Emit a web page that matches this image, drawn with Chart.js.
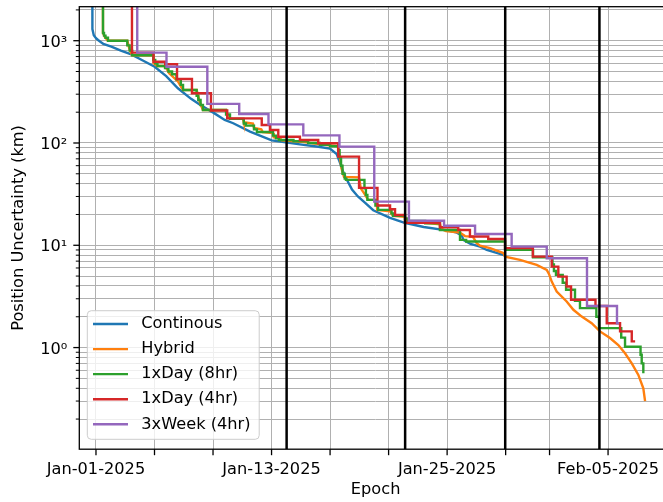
<!DOCTYPE html>
<html>
<head>
<meta charset="utf-8">
<script src="https://cdn.jsdelivr.net/npm/chart.js@4/dist/chart.umd.min.js"></script>
<style>
  html, body { margin: 0; padding: 0; background: #fff; overflow: hidden; width: 663px; height: 502px; }
  #wrap { width: 680px; height: 502px; }
</style>
</head>
<body>
<div id="wrap"><canvas id="c" width="680" height="502"></canvas></div>
<script>
// ---- data (x = days since Jan-01-2025, y = position uncertainty in km) ----
const seriesNames  = ['Continous', 'Hybrid', '1xDay (8hr)', '1xDay (4hr)', '3xWeek (4hr)'];
const seriesColors = ['#1f77b4', '#ff7f0e', '#2ca02c', '#d62728', '#9467bd'];

const continuous = [
  [-0.25, 4000], [-0.245, 1300], [-0.15, 1130], [0.0, 1060], [0.14, 1016], [0.5, 930], [1.05, 874],
  [1.7, 800], [2.41, 736], [3.2, 640], [4.01, 557], [4.8, 450], [5.6, 343], [6.5, 270], [7.11, 236],
  [8.02, 198], [8.8, 168], [9.38, 156], [10.53, 129], [12.01, 106], [13.94, 97], [15.2, 92],
  [15.99, 88], [16.45, 78], [16.68, 64], [16.9, 52], [17.14, 44], [17.5, 35], [17.9, 30], [18.4, 26],
  [18.95, 22], [20.1, 18.5], [21.1, 16.6], [22.4, 15.1], [23.97, 14.0], [24.6, 13.4], [25.0, 12.5],
  [25.11, 11.3], [25.6, 10.3], [26.25, 9.7], [26.71, 9.0], [27.84, 8.05], [27.98, 7.9]
];

const hybrid = [
  [0.47, 4000], [0.48, 1190], [0.6, 1090], [0.82, 1000], [2.14, 1000], [2.3, 820], [2.47, 720],
  [3.92, 720], [3.95, 601], [4.2, 566], [4.72, 566], [5.0, 480], [5.6, 400], [5.95, 330], [6.88, 330],
  [7.1, 250], [7.31, 210], [8.89, 210], [9.0, 180], [9.16, 172], [10.05, 172], [10.1, 160],
  [10.73, 155], [10.8, 140], [11.3, 136], [11.4, 128], [12.1, 125], [12.15, 114], [12.58, 111],
  [12.7, 106], [14.0, 103], [15.3, 97], [16.54, 93], [16.65, 75], [16.8, 55], [16.95, 46.6],
  [17.98, 46.1], [18.1, 36], [18.4, 31.1], [18.6, 27.8], [19.19, 27.8], [19.22, 22.2], [20.1, 21.5],
  [20.3, 19.4], [21.12, 19.0], [21.2, 17.3], [23.51, 16.0], [23.6, 14.5], [23.92, 13.8], [24.88, 13.3],
  [25.22, 12.3], [25.77, 12.1], [26.02, 10.5], [26.25, 9.9], [26.93, 9.4], [27.84, 8.4], [27.96, 7.75],
  [28.98, 7.2], [30.12, 6.43], [30.81, 5.75], [30.96, 5.25], [31.15, 4.42], [31.49, 3.53],
  [32.17, 2.82], [32.63, 2.34], [33.2, 2.01], [33.88, 1.73], [34.45, 1.44], [35.13, 1.24],
  [35.7, 1.06], [36.16, 0.88], [36.62, 0.70], [37.07, 0.54], [37.41, 0.40], [37.53, 0.30]
];

const oneDay8hr = [
  [0.47, 4000], [0.48, 1190], [0.55, 1120], [0.65, 1070], [0.82, 1000], [2.14, 900], [2.3, 800],
  [2.47, 720], [3.92, 650], [4.05, 601], [4.2, 566], [4.72, 540], [4.95, 500], [5.2, 470], [5.5, 420],
  [5.8, 370], [5.95, 330], [6.88, 290], [6.99, 263], [7.15, 235], [7.31, 210], [8.89, 190],
  [9.16, 172], [10.1, 155], [10.25, 148], [10.8, 136], [11.0, 128], [12.1, 118], [12.3, 111],
  [12.5, 107], [13.5, 104], [14.5, 100], [15.3, 96], [16.0, 93], [16.55, 85], [16.65, 72],
  [16.75, 60], [16.85, 50], [17.0, 45], [17.09, 43.6], [18.35, 36], [18.45, 31], [18.55, 27.8],
  [19.1, 24.5], [19.28, 22.2], [20.2, 20.5], [20.3, 19.4], [21.12, 18.3], [21.33, 17.3], [22.5, 16.4],
  [23.51, 14.1], [24.88, 11.3], [25.3, 10.9], [27.96, 9.02], [29.87, 7.61], [31.2, 6.5], [31.3, 5.6],
  [31.44, 5.14], [31.9, 4.3], [32.13, 3.67], [32.74, 2.86], [33.08, 2.43], [34.2, 2.0], [34.38, 1.55],
  [35.9, 1.25], [36.16, 1.02], [37.22, 0.85], [37.3, 0.7], [37.41, 0.56]
];

const oneDay4hr = [
  [2.45, 4000], [2.46, 764], [3.93, 623], [4.73, 588], [5.54, 423], [6.56, 306], [7.86, 208],
  [8.97, 174], [11.33, 150], [11.89, 134], [12.46, 115], [13.94, 107], [15.19, 99.3], [16.56, 73.6],
  [17.98, 36.4], [19.24, 24.5], [20.1, 22.5], [20.44, 19.8], [21.12, 16.6], [23.51, 15.0],
  [24.76, 14.1], [25.56, 12.2], [26.81, 11.5], [27.96, 9.37], [29.86, 7.75], [31.15, 6.19],
  [31.6, 4.94], [32.17, 3.95], [32.47, 2.93], [34.14, 2.55], [34.91, 1.73], [35.82, 1.44],
  [36.62, 1.15], [36.85, 1.15]
];

const threePerWeek = [
  [2.81, 4000], [2.82, 764], [4.82, 557], [7.61, 241], [9.79, 192], [11.79, 152], [14.17, 118.7],
  [16.64, 92.1], [19.02, 26.7], [21.39, 17.4], [23.79, 15.5], [25.91, 12.9], [28.41, 9.7],
  [30.81, 7.48], [33.56, 2.55], [35.61, 1.73], [35.75, 1.73]
];

const eventDays = [13.03, 21.13, 27.97, 34.41];   // black vertical lines

const xTickDays   = [0, 4, 8, 12, 16, 20, 24, 28, 31, 35, 39];
const xTickLabels = ['Jan-01-2025', '', '', 'Jan-13-2025', '', '', 'Jan-25-2025', '', '', 'Feb-05-2025', ''];
const yLabelValues = [1, 10, 100, 1000];
const yLabelTexts  = ['10\u2070', '10\u00b9', '10\u00b2', '10\u00b3'];
const yDecades = [0.1, 1, 10, 100, 1000];
const yMantissas = [1, 2, 3, 4, 5, 6, 7, 8, 9];

const xMin = -1.14, xMax = 39.37, yMin = 0.1015, yMax = 2150;

// ---- chart ----
Chart.defaults.font.family = "'DejaVu Sans', sans-serif";
Chart.defaults.font.size = 16.2;
Chart.defaults.color = '#000';

const yTickValues = [];
yDecades.forEach(d => yMantissas.forEach(m => {
  const v = +(m * d).toPrecision(6);
  if (v >= yMin && v <= yMax) yTickValues.push(v);
}));

const lineSeries = [continuous, hybrid, oneDay8hr, oneDay4hr, threePerWeek];
const steppedFlags = [false, false, true, true, true];

const datasets = seriesNames.map((name, i) => ({
  label: name,
  data: lineSeries[i].map(([x, y]) => ({ x, y })),
  borderColor: seriesColors[i],
  backgroundColor: seriesColors[i],
  borderWidth: 2.4,
  pointRadius: 0,
  stepped: steppedFlags[i],
  tension: 0,
  fill: false,
  clip: 0,
  order: 5 - i,
  inLegend: true
}));
eventDays.forEach(d => datasets.push({
  label: 'event',
  data: [{ x: d, y: yMin }, { x: d, y: yMax }],
  borderColor: '#000',
  borderWidth: 2.5,
  pointRadius: 0,
  fill: false,
  clip: 0,
  order: 0,
  inLegend: false
}));

const frameAndLegend = {
  id: 'frameAndLegend',
  afterDraw(chart) {
    const ctx = chart.ctx, a = chart.chartArea;
    const xs = chart.scales.x, ys = chart.scales.y;
    ctx.save();
    ctx.strokeStyle = '#000';
    // tick marks
    ys.ticks.forEach(t => {
      const p = ys.getPixelForValue(t.value);
      const major = yLabelValues.includes(t.value);
      ctx.lineWidth = major ? 1.3 : 1;
      ctx.beginPath();
      ctx.moveTo(a.left - (major ? 6 : 3.5), p);
      ctx.lineTo(a.left, p);
      ctx.stroke();
    });
    xs.ticks.forEach(t => {
      const p = xs.getPixelForValue(t.value);
      ctx.lineWidth = 1.3;
      ctx.beginPath();
      ctx.moveTo(p, a.bottom);
      ctx.lineTo(p, a.bottom + 6);
      ctx.stroke();
    });
    // spines
    ctx.lineWidth = 1.3;
    ctx.strokeRect(a.left, a.top, a.right - a.left, a.bottom - a.top);

    // legend
    const items = chart.data.datasets.filter(d => d.inLegend);
    ctx.font = "16.2px 'DejaVu Sans', sans-serif";
    const rowH = 25.07, handle = 35, gap = 13.3, padL = 5.7, padR = 8.7, padT = 13.3, padB = 15;
    const textW = Math.max(...items.map(d => ctx.measureText(d.label).width));
    const w = padL + handle + gap + textW + padR;
    const h = padT + rowH * (items.length - 1) + padB;
    const x0 = a.left + 8, y0 = a.bottom - 9.9 - h, r = 4;
    ctx.beginPath();
    ctx.moveTo(x0 + r, y0);
    ctx.lineTo(x0 + w - r, y0);
    ctx.quadraticCurveTo(x0 + w, y0, x0 + w, y0 + r);
    ctx.lineTo(x0 + w, y0 + h - r);
    ctx.quadraticCurveTo(x0 + w, y0 + h, x0 + w - r, y0 + h);
    ctx.lineTo(x0 + r, y0 + h);
    ctx.quadraticCurveTo(x0, y0 + h, x0, y0 + h - r);
    ctx.lineTo(x0, y0 + r);
    ctx.quadraticCurveTo(x0, y0, x0 + r, y0);
    ctx.closePath();
    ctx.fillStyle = 'rgba(255,255,255,0.8)';
    ctx.fill();
    ctx.strokeStyle = '#cccccc';
    ctx.lineWidth = 1;
    ctx.stroke();
    items.forEach((d, i) => {
      const yy = y0 + padT + i * rowH;
      ctx.strokeStyle = d.borderColor;
      ctx.lineWidth = 2.4;
      ctx.beginPath();
      ctx.moveTo(x0 + padL, yy);
      ctx.lineTo(x0 + padL + handle, yy);
      ctx.stroke();
      ctx.fillStyle = '#000';
      ctx.textBaseline = 'middle';
      ctx.textAlign = 'left';
      ctx.fillText(d.label, x0 + padL + handle + gap, yy);
    });
    ctx.restore();
  }
};

new Chart(document.getElementById('c'), {
  type: 'line',
  data: { datasets },
  options: {
    responsive: false,
    animation: false,
    devicePixelRatio: 1,
    events: [],
    layout: { padding: { left: 0, right: 8, top: 6.7, bottom: 0 } },
    plugins: { legend: { display: false }, tooltip: { enabled: false } },
    scales: {
      x: {
        type: 'linear',
        min: xMin, max: xMax, bounds: 'data',
        afterBuildTicks: s => { s.ticks = xTickDays.map(v => ({ value: v })); },
        afterFit: s => { s.height = 52.8; s.paddingLeft = 0; s.paddingRight = 0; },
        grid: { color: '#b0b0b0', lineWidth: 1, drawTicks: false },
        border: { display: false },
        ticks: {
          autoSkip: false, maxRotation: 0, minRotation: 0, padding: 11, color: '#000',
          callback: v => { const i = xTickDays.indexOf(v); return i >= 0 ? xTickLabels[i] : ''; }
        },
        title: { display: true, text: 'Epoch', color: '#000', padding: { top: 0, bottom: 2.9 } }
      },
      y: {
        type: 'logarithmic',
        min: yMin, max: yMax, bounds: 'data',
        afterBuildTicks: s => { s.ticks = yTickValues.map(v => ({ value: v, major: yLabelValues.includes(v) })); },
        afterFit: s => { s.width = 79.3; s.paddingTop = 0; s.paddingBottom = 0; },
        grid: { color: '#b0b0b0', lineWidth: 1, drawTicks: false },
        border: { display: false },
        ticks: {
          autoSkip: false, padding: 12, labelOffset: 2, color: '#000',
          callback: v => { const i = yLabelValues.indexOf(v); return i >= 0 ? yLabelTexts[i] : ''; }
        },
        title: { display: true, text: 'Position Uncertainty (km)', color: '#000', padding: { top: 9.5, bottom: 0 } }
      }
    }
  },
  plugins: [frameAndLegend]
});
</script>
</body>
</html>
